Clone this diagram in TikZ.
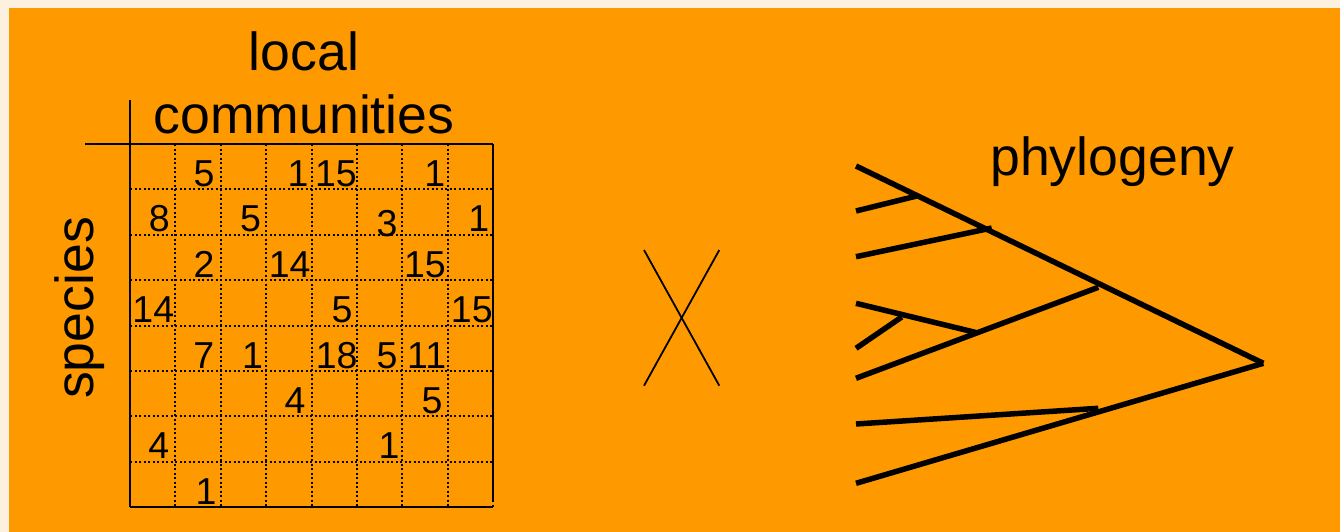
\documentclass[tikz,border=0pt]{standalone}
\usepackage{fontspec}
\setmainfont{Liberation Sans}
\definecolor{bgorange}{HTML}{FF9900}
\definecolor{cream}{HTML}{FBF1DE}
\begin{document}
\begin{tikzpicture}[x=1pt,y=-1pt,
  solidline/.style={line width=2pt},
  dotline/.style={line width=2pt,dash pattern=on 2pt off 2.5pt},
  treeline/.style={line width=5.5pt},
  crossline/.style={line width=1.8pt},
  numtext/.style={inner sep=0pt,anchor=base east,font=\fontsize{37.5}{40}\selectfont},
  labeltext/.style={inner sep=0pt,anchor=base,font=\fontsize{53.6}{60}\selectfont}]
\useasboundingbox (0,0) rectangle (1340,532);
\fill[cream] (0,0) rectangle (1340,532);
\fill[bgorange] (9,8) rectangle (1340,532);
% grid
\foreach \c in {1,...,7} \draw[dotline] (130+\c*45.4,144) -- (130+\c*45.4,507.2);
\foreach \r in {1,...,7} \draw[dotline] (130,144+\r*45.4) -- (493.2,144+\r*45.4);
\draw[dotline] (493.2,500) -- (493.2,507.2);
\draw[solidline] (85,144) -- (493.2,144);
\draw[solidline] (130,100) -- (130,507.2);
\draw[solidline] (130,507.2) -- (493.2,507.2);
\draw[solidline] (493.2,144) -- (493.2,500);
% numbers: col/row/text/pad
\foreach \c/\r/\t/\p in {2/1/5/6, 4/1/1/3, 5/1/15/0, 7/1/1/2.5,
  1/2/8/5.5, 3/2/5/5, 8/2/1/3.8,
  2/3/2/6, 4/3/14/0.8, 7/3/15/1.8,
  1/4/14/1, 5/4/5/4.2, 8/4/15/0.3,
  2/5/7/6.3, 3/5/1/3, 5/5/18/-0.8, 6/5/5/4.7, 7/5/11/1.5,
  4/6/4/5.8, 7/6/5/5.2,
  1/7/4/6, 6/7/1/2.8,
  2/8/1/4}
  \node[numtext] (n\c-\r) at (130+\c*45.4-\p,144+\r*45.4-3) {\t};
\node[numtext] (n6-2) at (402.4-4.7,234.8+1.7) {3};
% labels
\node[labeltext] (local) at (304,71) {local};
\node[labeltext] (comm) at (304,133) {communities};
\node[labeltext,rotate=90] (species) at (93,308) {species};
\node[labeltext] (phylo) at (1112.5,175.7) {phylogeny};
% cross
\coordinate (xa) at (644,250);
\coordinate (xb) at (719.3,385.7);
\coordinate (xc) at (719.3,250);
\coordinate (xd) at (644,385.7);
\draw[crossline] (xa) -- (xb);
\draw[crossline] (xc) -- (xd);
% phylogeny tree
\coordinate (root) at (1263.3,363.3);
\coordinate (l1) at (856,166);
\coordinate (l2) at (856,211);
\coordinate (l3) at (856,256.7);
\coordinate (l4) at (856,303.3);
\coordinate (l5) at (856,348.3);
\coordinate (l6) at (856,378.3);
\coordinate (l7) at (856,424);
\coordinate (l8) at (856,483.3);
\coordinate (j1) at (916.7,196);
\coordinate (j2) at (991.7,228);
\coordinate (j3) at (1098.3,287.3);
\coordinate (j4) at (976.7,332.7);
\coordinate (j5) at (901.7,317);
\coordinate (j6) at (1098.3,408.3);
\draw[treeline] (l1) -- (root);
\draw[treeline] (l8) -- (root);
\draw[treeline] (l2) -- (j1);
\draw[treeline] (l3) -- (j2);
\draw[treeline] (l6) -- (j3);
\draw[treeline] (l4) -- (j4);
\draw[treeline] (l5) -- (j5);
\draw[treeline] (l7) -- (j6);
\end{tikzpicture}
\end{document}
